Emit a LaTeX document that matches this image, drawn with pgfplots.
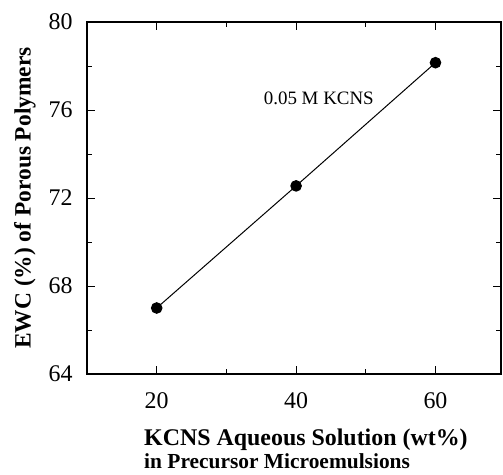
\documentclass[border=0pt]{standalone}
\usepackage{pgfplots}
\pgfplotsset{compat=1.18}
\usepackage{fontspec}
\setmainfont{Liberation Serif}
\begin{document}
\begin{tikzpicture}
\begin{axis}[
  scale only axis,
  width=414bp, height=352bp,
  xmin=10, xmax=69.4, ymin=64, ymax=80,
  xtick={20,40,60}, ytick={64,68,72,76,80},
  minor xtick={30,50}, minor ytick={66,70,74,78},
  tick align=inside,
  major tick length=8bp, minor tick length=5bp,
  tick style={black, line width=0.9pt},
  axis line style={line width=1.1pt},
  /pgf/number format/assume math mode=true,
  ticklabel style={font=\fontsize{24}{25}\selectfont},
  xticklabel style={yshift=-15bp},
  yticklabel style={xshift=-11bp},
  xlabel={{\fontsize{24}{22.5}\selectfont\textbf{KCNS Aqueous Solution (wt\%)}}\\{\fontsize{21.5}{22.5}\selectfont\textbf{in Precursor Microemulsions}}},
  xlabel style={at={(axis description cs:0,0)}, anchor=north west, align=left, inner sep=0pt, font=\fontsize{22}{22.5}\selectfont, xshift=57bp, yshift=-55bp},
  ylabel={\textbf{EWC (\%) of Porous Polymers}},
  ylabel style={at={(axis description cs:0,0.5)}, anchor=center, font=\fontsize{23.5}{26}\selectfont, yshift=62bp},
  clip=false,
]
\addplot[black, line width=1pt, mark=*, mark size=5.3bp] coordinates {
  (20,67.0) (40,72.55) (60,78.15)
};
\node[font=\fontsize{19}{21}\selectfont] at (axis cs:43.26,76.55) {0.05 M KCNS};
\end{axis}
\path ([shift={(-87bp,-101bp)}]current axis.south west) rectangle ([shift={(2bp,22bp)}]current axis.north east);
\end{tikzpicture}
\end{document}
